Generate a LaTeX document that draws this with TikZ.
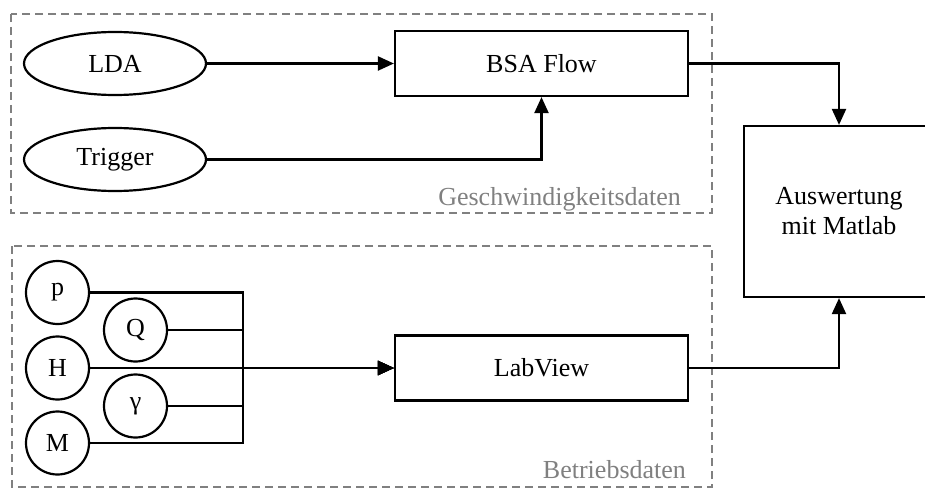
\documentclass[tikz,border=0pt]{standalone}
\usepackage{fontspec}
\setmainfont{Liberation Serif}
\usetikzlibrary{shapes.geometric,arrows.meta,positioning,calc}

\begin{document}
\begin{tikzpicture}[
  x=1pt, y=-1pt,
  >={Triangle[length=16pt,width=14pt]},
  line width=2.2pt,
  source/.style={
    ellipse, draw, minimum width=182pt, minimum height=63pt,
    inner sep=0pt, font=\fontsize{26}{30}\selectfont
  },
  sensor/.style={
    circle, draw, minimum size=63pt,
    inner sep=0pt, font=\fontsize{26}{30}\selectfont
  },
  block/.style={
    rectangle, draw, minimum width=293pt, minimum height=65pt,
    inner sep=0pt, font=\fontsize{26}{30}\selectfont
  },
  group/.style={draw=gray, line width=2pt, dash pattern=on 8pt off 5pt},
  grouplabel/.style={
    text=gray, anchor=base east, inner sep=0pt,
    font=\fontsize{26}{30}\selectfont
  }
]
\useasboundingbox (0,0) rectangle (925,489);

% Gruppen
\draw[group] (11,14) rectangle (712,213);
\draw[group] (12,246) rectangle (712,487);
\node[grouplabel] (speedlbl) at (682,205) {Geschwindigkeitsdaten};
\node[grouplabel] (oplbl)    at (687,478) {Betriebsdaten};

% Knoten
\node[source] (lda)     at (115,63.5)  {LDA};
\node[source] (trigger) at (115,159.5) {Trigger};
\node[block]  (bsa)     at (541.5,63.5) {BSA Flow};
\node[block]  (labview) at (541.5,368)  {LabView};
\node[rectangle, draw, minimum width=190pt, minimum height=171pt,
      inner sep=0pt, align=center, font=\fontsize{26}{30}\selectfont]
      (matlab) at (839,211.5) {Auswertung\\mit Matlab};

\node[sensor] (p)     at (57.5,292.5) {p};
\node[sensor] (Q)     at (135.5,330)  {Q};
\node[sensor] (H)     at (57.5,368)   {H};
\node[sensor] (gamma) at (135.5,406)  {γ};
\node[sensor] (M)     at (57.5,443)   {M};
\coordinate (bus) at (243,368);

% Verbindungen
\draw[->] (lda) -- (bsa);
\draw[->] (trigger.east) -| (bsa.south);
\draw[->] (bsa.east) -| (matlab.north);
\draw[->] (labview.east) -| (matlab.south);
\foreach \s in {p,Q,H,gamma,M}
  \draw[->] (\s.east) -| (bus) -- (labview.west);

\end{tikzpicture}
\end{document}
